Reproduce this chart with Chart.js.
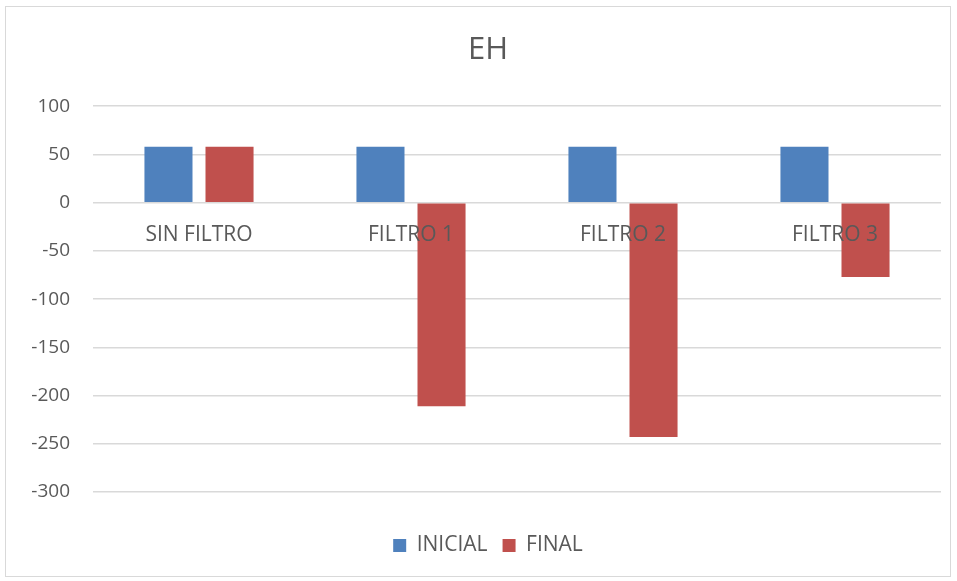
<!DOCTYPE html>
<html>
<head>
<meta charset="utf-8">
<script src="https://cdn.jsdelivr.net/npm/chart.js@4.4.1/dist/chart.umd.min.js"></script>
<style>
  html, body { margin: 0; padding: 0; background: #fff; }
  .frame { position: absolute; left: 5px; top: 6px; width: 946px; height: 571px; border: 1px solid #d9d9d9; box-sizing: border-box; }
  .wrap { position: absolute; left: 0; top: 0; width: 957px; height: 581px; }
</style>
</head>
<body>
<div class="frame"></div>
<div class="wrap"><canvas id="chart"></canvas></div>
<script>
const categories = ["SIN FILTRO", "FILTRO 1", "FILTRO 2", "FILTRO 3"]
const inicial = [58, 58, 58, 58]
const final = [58, -211, -243, -77]
const yTicks = [100, 50, 0, -50, -100, -150, -200, -250, -300]

const textColour = "#595959"
const gridColour = "#d9d9d9"
const fontFamily = "'Open Sans', 'Liberation Sans', sans-serif"

new Chart(document.getElementById("chart").getContext("2d"), {
  type: "bar",
  data: {
    labels: categories,
    datasets: [
      { label: "INICIAL", data: inicial, backgroundColor: "#4f81bd" },
      { label: "FINAL", data: final, backgroundColor: "#c0504d" }
    ]
  },
  options: {
    responsive: true,
    maintainAspectRatio: false,
    animation: false,
    categoryPercentage: 0.576,
    barPercentage: 0.787,
    layout: { padding: { left: 5, right: 16, top: 6, bottom: 15 } },
    plugins: {
      title: {
        display: true,
        text: "EH",
        color: textColour,
        font: { family: fontFamily, size: 31, weight: "normal" },
        padding: { top: 26, bottom: 37 }
      },
      legend: {
        position: "bottom",
        // empty title only used as spacer between plot and legend
        title: { display: true, text: " ", font: { size: 10 }, padding: 8 },
        labels: {
          color: textColour,
          font: { family: fontFamily, size: 21 },
          boxWidth: 13,
          boxHeight: 13,
          padding: 15
        }
      },
      tooltip: { enabled: false }
    },
    scales: {
      x: {
        position: { y: 0 },
        grid: { display: false },
        border: { display: false },
        ticks: {
          z: 1,
          color: textColour,
          font: { family: fontFamily, size: 21 },
          padding: 12
        }
      },
      y: {
        min: -300,
        max: 100,
        afterBuildTicks: scale => { scale.ticks = yTicks.map(v => ({ value: v })) },
        afterFit: scale => { scale.width = 88 },
        grid: { color: gridColour, lineWidth: 1.5, drawTicks: false },
        border: { display: false },
        ticks: {
          color: textColour,
          font: { family: fontFamily, size: 19 },
          padding: 23
        }
      }
    }
  },
  plugins: [{
    // title and legend are a bit right of centre in the original
    id: "shiftBoxes",
    afterLayout(chart) {
      [chart.titleBlock, chart.legend].forEach(box => {
        box.left += 15
        box.right += 15
      })
    }
  }]
})
</script>
</body>
</html>
